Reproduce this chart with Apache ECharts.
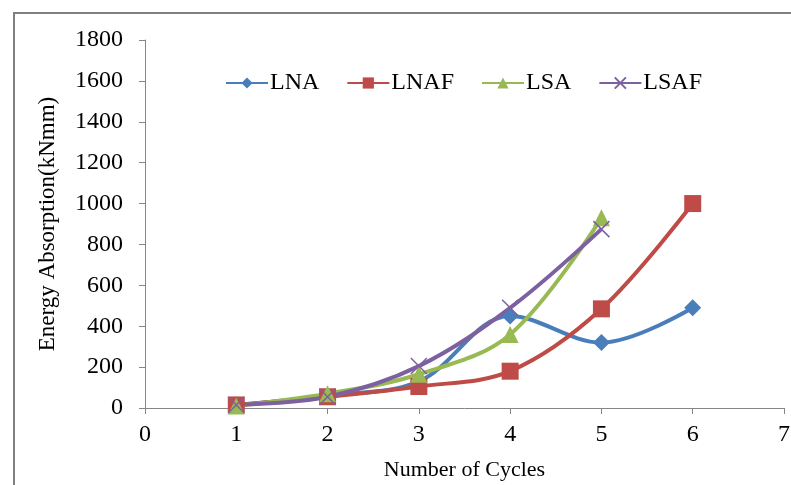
<!DOCTYPE html>
<html><head><meta charset="utf-8">
<script src="https://cdn.jsdelivr.net/npm/echarts@6/dist/echarts.min.js"></script>
<style>html,body{margin:0;padding:0;background:#fff}#c{width:791px;height:485px}</style>
</head><body><div id="c"></div>
<script>
const cycles = [1, 2, 3, 4, 5, 6];
const LNA  = [15, 60, 130, 450, 320, 490];
const LNAF = [15, 55, 105, 180, 485, 1000];
const LSA  = [10, 70, 165, 360, 930];
const LSAF = [15, 55, 205, 490, 875];
const xTicks = [0, 7, 1];
const yTicks = [0, 1800, 200];

function pairs(vals){ return vals.map((v,i)=>[cycles[i], v]); }
const font = '"Liberation Serif", "Times New Roman", serif';
const axisGray = '#868686';
const crossPath = 'path://M0,0 L10,10 M10,0 L0,10';

const chart = echarts.init(document.getElementById('c'), null, {renderer:'canvas'});
function mk(name, data, color, symbol, size, extra){
  return Object.assign({
    name, type:'line', data: pairs(data), smooth:0.35,
    symbol, symbolSize:size,
    lineStyle:{color, width:4},
    itemStyle:{color},
    emphasis:{disabled:true}
  }, extra||{});
}
chart.setOption({
  animation:false,
  textStyle:{fontFamily:font},
  graphic:[{type:'rect', shape:{x:14, y:13, width:900, height:600},
    style:{fill:'none', stroke:'#808080', lineWidth:2}, silent:true}],
  grid:{left:145, right:7, top:40, bottom:77, containLabel:false, outerBoundsMode:'none'},
  legend:{
    top:66, left:220, itemGap:27, itemWidth:42, itemHeight:14,
    textStyle:{fontFamily:font, fontSize:24, color:'#000', padding:[0,0,0,-3]},
    data:['LNA','LNAF','LSA','LSAF']
  },
  xAxis:{
    type:'value', min:xTicks[0], max:xTicks[1], interval:xTicks[2],
    name:'Number of Cycles', nameLocation:'middle', nameGap:51,
    nameTextStyle:{fontFamily:font, fontSize:22, color:'#000'},
    axisLine:{lineStyle:{color:axisGray, width:1}},
    axisTick:{show:true, length:6, lineStyle:{color:axisGray}},
    axisLabel:{fontFamily:font, fontSize:24, color:'#000', margin:15},
    splitLine:{show:false}
  },
  yAxis:{
    type:'value', min:yTicks[0], max:yTicks[1], interval:yTicks[2],
    name:'Energy Absorption(kNmm)', nameLocation:'middle', nameGap:86,
    nameTextStyle:{fontFamily:font, fontSize:23, color:'#000'},
    axisLine:{show:true, lineStyle:{color:axisGray, width:1}},
    axisTick:{show:true, length:6, lineStyle:{color:axisGray}},
    axisLabel:{fontFamily:font, fontSize:24, color:'#000', margin:22,
      formatter:(v)=>String(v)},
    splitLine:{show:false}
  },
  series:[
    mk('LNA', LNA, '#4A7EBB', 'diamond', 17),
    mk('LNAF', LNAF, '#BE4B48', 'rect', 17),
    mk('LSA', LSA, '#98B954', 'triangle', 17),
    mk('LSAF', LSAF, '#7D60A0', crossPath, 16,
       {itemStyle:{color:'rgba(0,0,0,0)', borderColor:'#7D60A0', borderWidth:1.5}})
  ]
});
</script></body></html>
